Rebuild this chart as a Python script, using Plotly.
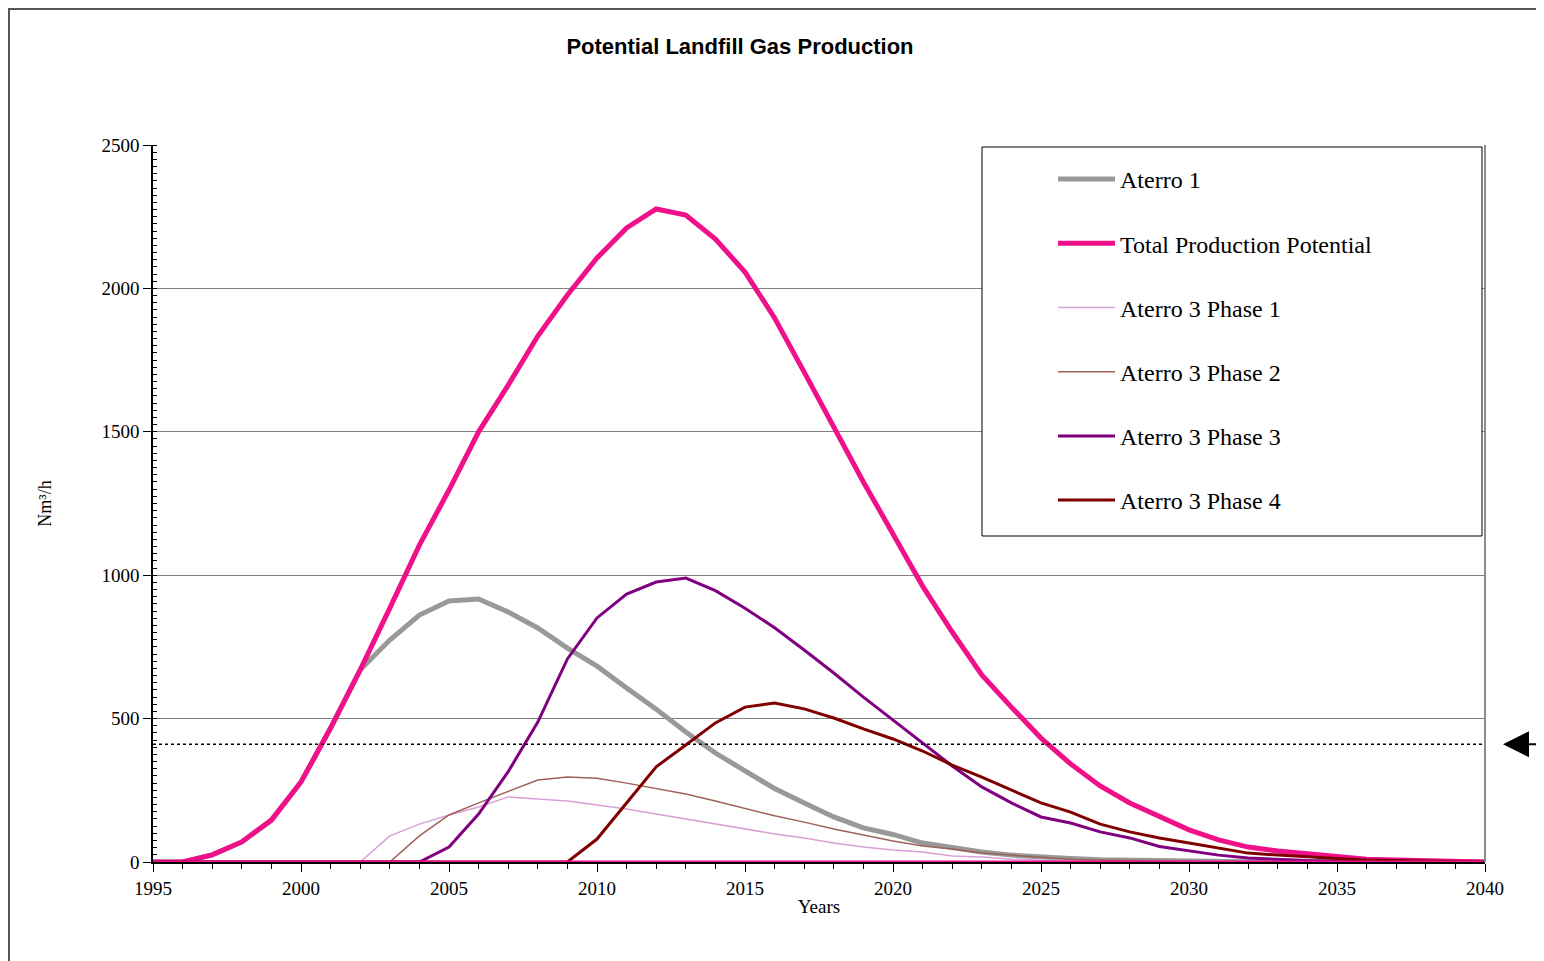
import plotly.graph_objects as go

# 年份與各系列數據 (Nm3/h)
years = list(range(1995, 2041))

aterro_1 = [0, 0, 25, 70, 146, 279, 467, 670, 774, 861,
            910, 917, 872, 816, 746, 683, 607, 533, 453, 380,
            318, 256, 206, 157, 119, 96, 66, 49, 35, 24,
            17, 12, 8, 6, 4, 3, 2, 1, 1, 0,
            0, 0, 0, 0, 0, 0]

total_potential = [0, 0, 25, 70, 146, 279, 467, 670, 885, 1105,
                   1297, 1500, 1663, 1834, 1977, 2106, 2211, 2277, 2256, 2172,
                   2057, 1897, 1708, 1513, 1325, 1144, 962, 802, 652, 540,
                   432, 342, 265, 206, 157, 112, 77, 52, 38, 28,
                   17, 10, 7, 5, 0, 0]

phase_1 = [0, 0, 0, 0, 0, 0, 0, 0, 91, 132,
           164, 192, 227, 220, 213, 199, 185, 167, 150, 132,
           115, 98, 84, 66, 52, 42, 35, 21, 17, 10,
           6, 4, 3, 2, 1, 1, 0, 0, 0, 0,
           0, 0, 0, 0, 0, 0]

phase_2 = [0, 0, 0, 0, 0, 0, 0, 0, 0, 91,
           164, 206, 245, 286, 296, 292, 275, 255, 237, 213,
           188, 161, 139, 115, 94, 73, 56, 45, 31, 24,
           17, 10, 7, 5, 3, 2, 1, 1, 0, 0,
           0, 0, 0, 0, 0, 0]

phase_3 = [0, 0, 0, 0, 0, 0, 0, 0, 0, 0,
           52, 167, 315, 488, 708, 851, 934, 976, 990, 946,
           885, 817, 739, 659, 575, 495, 418, 335, 262, 206,
           157, 136, 105, 84, 54, 38, 24, 14, 9, 5,
           3, 2, 1, 0, 0, 0]

phase_4 = [0, 0, 0, 0, 0, 0, 0, 0, 0, 0,
           0, 0, 0, 0, 0, 80, 205, 332, 408, 485,
           540, 554, 534, 502, 464, 429, 387, 338, 296, 251,
           206, 174, 132, 105, 84, 66, 49, 31, 24, 17,
           12, 7, 5, 4, 0, 0]

zero_line = [0] * len(years)

threshold = 411

SERIES = [
    ("Aterro 1", aterro_1, "#999999", 5),
    ("Total Production Potential", total_potential, "#F0108A", 5),
    ("Aterro 3 Phase 1", phase_1, "#D8A0D8", 1.5),
    ("Aterro 3 Phase 2", phase_2, "#A0605A", 1.5),
    ("Aterro 3 Phase 3", phase_3, "#800080", 3),
    ("Aterro 3 Phase 4", phase_4, "#800000", 3),
]

SERIF = "Liberation Serif"

fig = go.Figure()
for i, (name, vals, color, width) in enumerate(SERIES):
    fig.add_trace(go.Scatter(
        x=years, y=vals, name=name, mode="lines", legendgroup=f"g{i}",
        line=dict(color=color, width=width),
    ))
fig.add_trace(go.Scatter(
    x=years, y=zero_line, mode="lines", showlegend=False,
    line=dict(color="#F0108A", width=3),
))

# 虛線門檻、右側邊框、外框
fig.add_shape(type="line", xref="paper", yref="y", x0=0, x1=1, y0=threshold, y1=threshold,
              line=dict(color="black", width=1.5, dash="dot"))
fig.add_shape(type="line", xref="paper", yref="paper", x0=1, x1=1, y0=0, y1=1,
              line=dict(color="#8c8c8c", width=2))
fig.add_shape(type="rect", xref="paper", yref="paper",
              x0=-0.1081, x1=1.0428, y0=-0.2, y1=1.1897,
              line=dict(color="#555555", width=2))
# 圖例外框
fig.add_shape(type="rect", xref="paper", yref="paper",
              x0=(982 - 153) / 1332, x1=(1482 - 153) / 1332,
              y0=(862 - 536) / 717, y1=(862 - 147) / 717,
              line=dict(color="black", width=1), fillcolor="white", layer="above")

fig.add_annotation(x=(1503 - 153) / 1332, y=threshold, xref="paper", yref="y",
                   ax=45, ay=0, showarrow=True, arrowhead=2, arrowsize=2.6,
                   arrowwidth=2, arrowcolor="black", text="")

fig.update_layout(
    width=1544, height=961,
    margin=dict(l=145, r=67, t=137, b=107),
    paper_bgcolor="white", plot_bgcolor="white",
    title=dict(text="<b>Potential Landfill Gas Production</b>", x=732 / 1544, xanchor="center",
               y=1 - 38 / 961, yanchor="middle",
               font=dict(family="Liberation Sans", size=22, color="black")),
    font=dict(family=SERIF, size=19, color="black"),
    legend=dict(x=(1053 - 153) / 1332, y=(862 - 157) / 717, xanchor="left", yanchor="top",
                bgcolor="rgba(0,0,0,0)", borderwidth=0, itemwidth=57,
                tracegroupgap=30, traceorder="grouped",
                font=dict(family=SERIF, size=24, color="black")),
    showlegend=True,
)

fig.update_xaxes(
    range=[1995, 2040], dtick=5, tick0=1995, showgrid=False, zeroline=False,
    showline=True, linecolor="black", linewidth=1.5,
    ticks="outside", ticklen=8, tickcolor="black",
    minor=dict(dtick=1, ticks="outside", ticklen=5, tickcolor="black"),
    title=dict(text="Years", font=dict(family=SERIF, size=19), standoff=2),
    tickfont=dict(family=SERIF, size=19),
)
fig.update_yaxes(
    range=[0, 2500], dtick=500, showgrid=True, gridcolor="#808080", gridwidth=1,
    zeroline=False, showline=True, linecolor="black", linewidth=1.5,
    ticks="outside", ticklen=8, tickcolor="black",
    minor=dict(dtick=25, ticks="inside", ticklen=4, tickcolor="black", showgrid=False),
    title=dict(text="Nm³/h", font=dict(family=SERIF, size=18), standoff=45),
    tickfont=dict(family=SERIF, size=19),
)

fig.write_html("out.html")
